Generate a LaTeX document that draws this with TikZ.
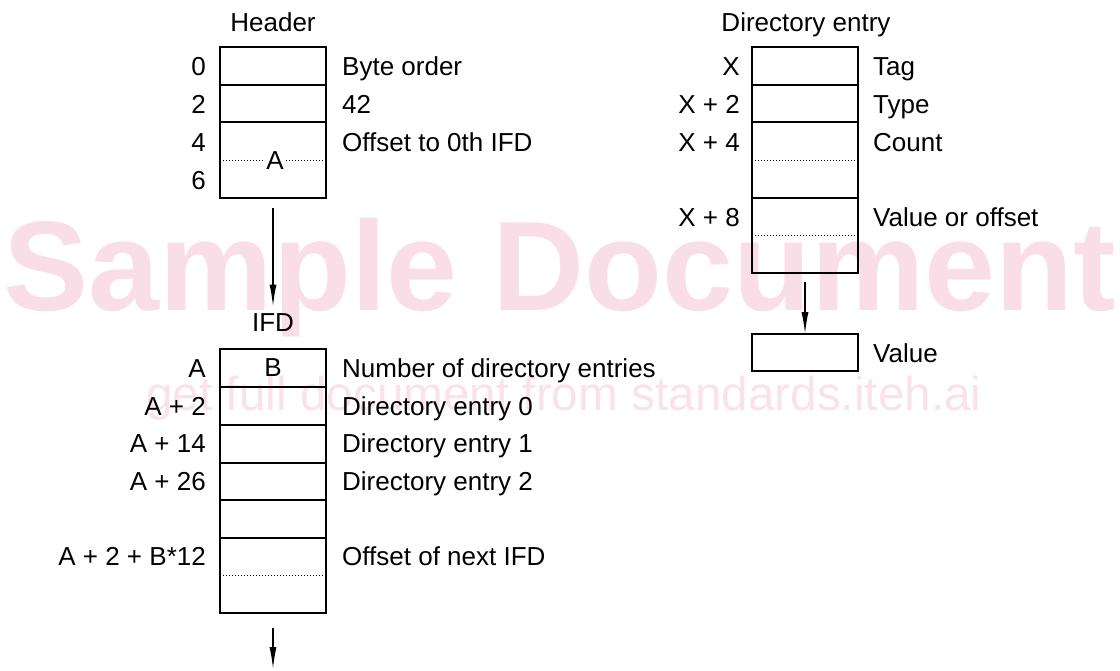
\documentclass[tikz,border=0pt]{standalone}
\usepackage{fontspec}
\setmainfont{Liberation Sans}
\usetikzlibrary{arrows.meta}
\definecolor{wmbig}{RGB}{250,222,231}
\definecolor{wmsmall}{RGB}{250,226,234}
\begin{document}
\begin{tikzpicture}[x=1pt,y=-1pt,
  lbl/.style={font=\fontsize{26}{30}\selectfont, inner sep=0pt, text height=18.6pt, text depth=0pt},
  lft/.style={lbl, anchor=east},
  rgt/.style={lbl, anchor=west},
  thickbox/.style={draw, line width=2.6pt, minimum width=106pt, minimum height=38pt, inner sep=0pt, outer sep=0pt, anchor=north west},
  thinbox/.style={draw, line width=1.2pt, minimum width=106pt, inner sep=0pt, outer sep=0pt, anchor=north west},
  dotline/.style={line width=1pt, dotted},
  arr/.style={line width=1.4pt, -{Latex[length=22pt,width=7pt]}}]
\useasboundingbox (0,0) rectangle (1120,670);

% watermark
\node[font=\fontsize{127.5}{130}\selectfont\bfseries, text=wmbig, inner sep=0pt, anchor=base] (wm1) at (560,310) {Sample Document};
\node[font=\fontsize{47.7}{50}\selectfont, text=wmsmall, inner sep=0pt, anchor=base] (wm2) at (564,410) {get full document from standards.iteh.ai};

% ---------------- Header ----------------
\node[lbl] (hdr) at (273,22) {Header};
\node[thinbox, minimum height=76pt] (h2) at (220,122) {};
\draw[dotline] (h2.west) -- (h2.east);
\node[lbl, fill=white, inner xsep=1pt] (hA) at (275,160) {A};
\node[thickbox] (h0) at (220,47) {};
\node[thickbox, minimum height=37pt] (h1) at (220,85) {};
\node[lft] (hl0) at (206,66) {0};
\node[lft] (hl2) at (206,104) {2};
\node[lft] (hl4) at (206,142) {4};
\node[lft] (hl6) at (206,180) {6};
\node[rgt] (hr0) at (342,66) {Byte order};
\node[rgt] (hr2) at (342,104) {42};
\node[rgt] (hr4) at (342,142) {Offset to 0th IFD};

% ---------------- IFD ----------------
\node[lbl] (ifd) at (273,322) {IFD};
\node[thinbox, minimum height=75pt] (i5) at (220,538) {};
\draw[dotline] (i5.west) -- (i5.east);
\node[thickbox] (i0) at (220,349) {\fontsize{26}{30}\selectfont B};
\node[thickbox] (i1) at (220,387) {};
\node[thickbox] (i2) at (220,425) {};
\node[thickbox, minimum height=37pt] (i3) at (220,463) {};
\node[thickbox] (i4) at (220,500) {};
\node[lft] (il0) at (206,368) {A};
\node[lft] (il1) at (206,406) {A + 2};
\node[lft] (il2) at (206,443) {A + 14};
\node[lft] (il3) at (206,481) {A + 26};
\node[lft] (il5) at (206,556) {A + 2 + B*12};
\node[rgt] (ir0) at (342,368) {Number of directory entries};
\node[rgt] (ir1) at (342,406) {Directory entry 0};
\node[rgt] (ir2) at (342,443) {Directory entry 1};
\node[rgt] (ir3) at (342,481) {Directory entry 2};
\node[rgt] (ir5) at (342,556) {Offset of next IFD};

% ---------------- Directory entry ----------------
\node[lbl] (de) at (806,22) {Directory entry};
\node[thinbox, minimum height=76pt] (d2) at (752,122) {};
\node[thinbox, minimum height=75pt] (d3) at (752,198) {};
\draw[dotline] (d2.west) -- (d2.east);
\draw[dotline] (d3.west) -- (d3.east);
\node[thickbox] (d0) at (752,47) {};
\node[thickbox, minimum height=37pt] (d1) at (752,85) {};
\node[lft] (dl0) at (740,66) {X};
\node[lft] (dl1) at (740,104) {X + 2};
\node[lft] (dl2) at (740,142) {X + 4};
\node[lft] (dl3) at (740,217) {X + 8};
\node[rgt] (dr0) at (873,66) {Tag};
\node[rgt] (dr1) at (873,104) {Type};
\node[rgt] (dr2) at (873,142) {Count};
\node[rgt] (dr3) at (873,217) {Value or offset};

\node[thickbox, minimum height=37pt] (val) at (752,334) {};
\node[rgt] (valr) at (873,353) {Value};

% ---------------- arrows ----------------
\coordinate (bend) at (273,669);
\draw[arr] ([yshift=-10pt]h2.south) -- ([yshift=6pt]ifd.north);
\draw[arr] ([yshift=-9pt]d3.south) -- (val.north);
\draw[arr] ([yshift=-15pt]i5.south) -- (bend);
\end{tikzpicture}
\end{document}
